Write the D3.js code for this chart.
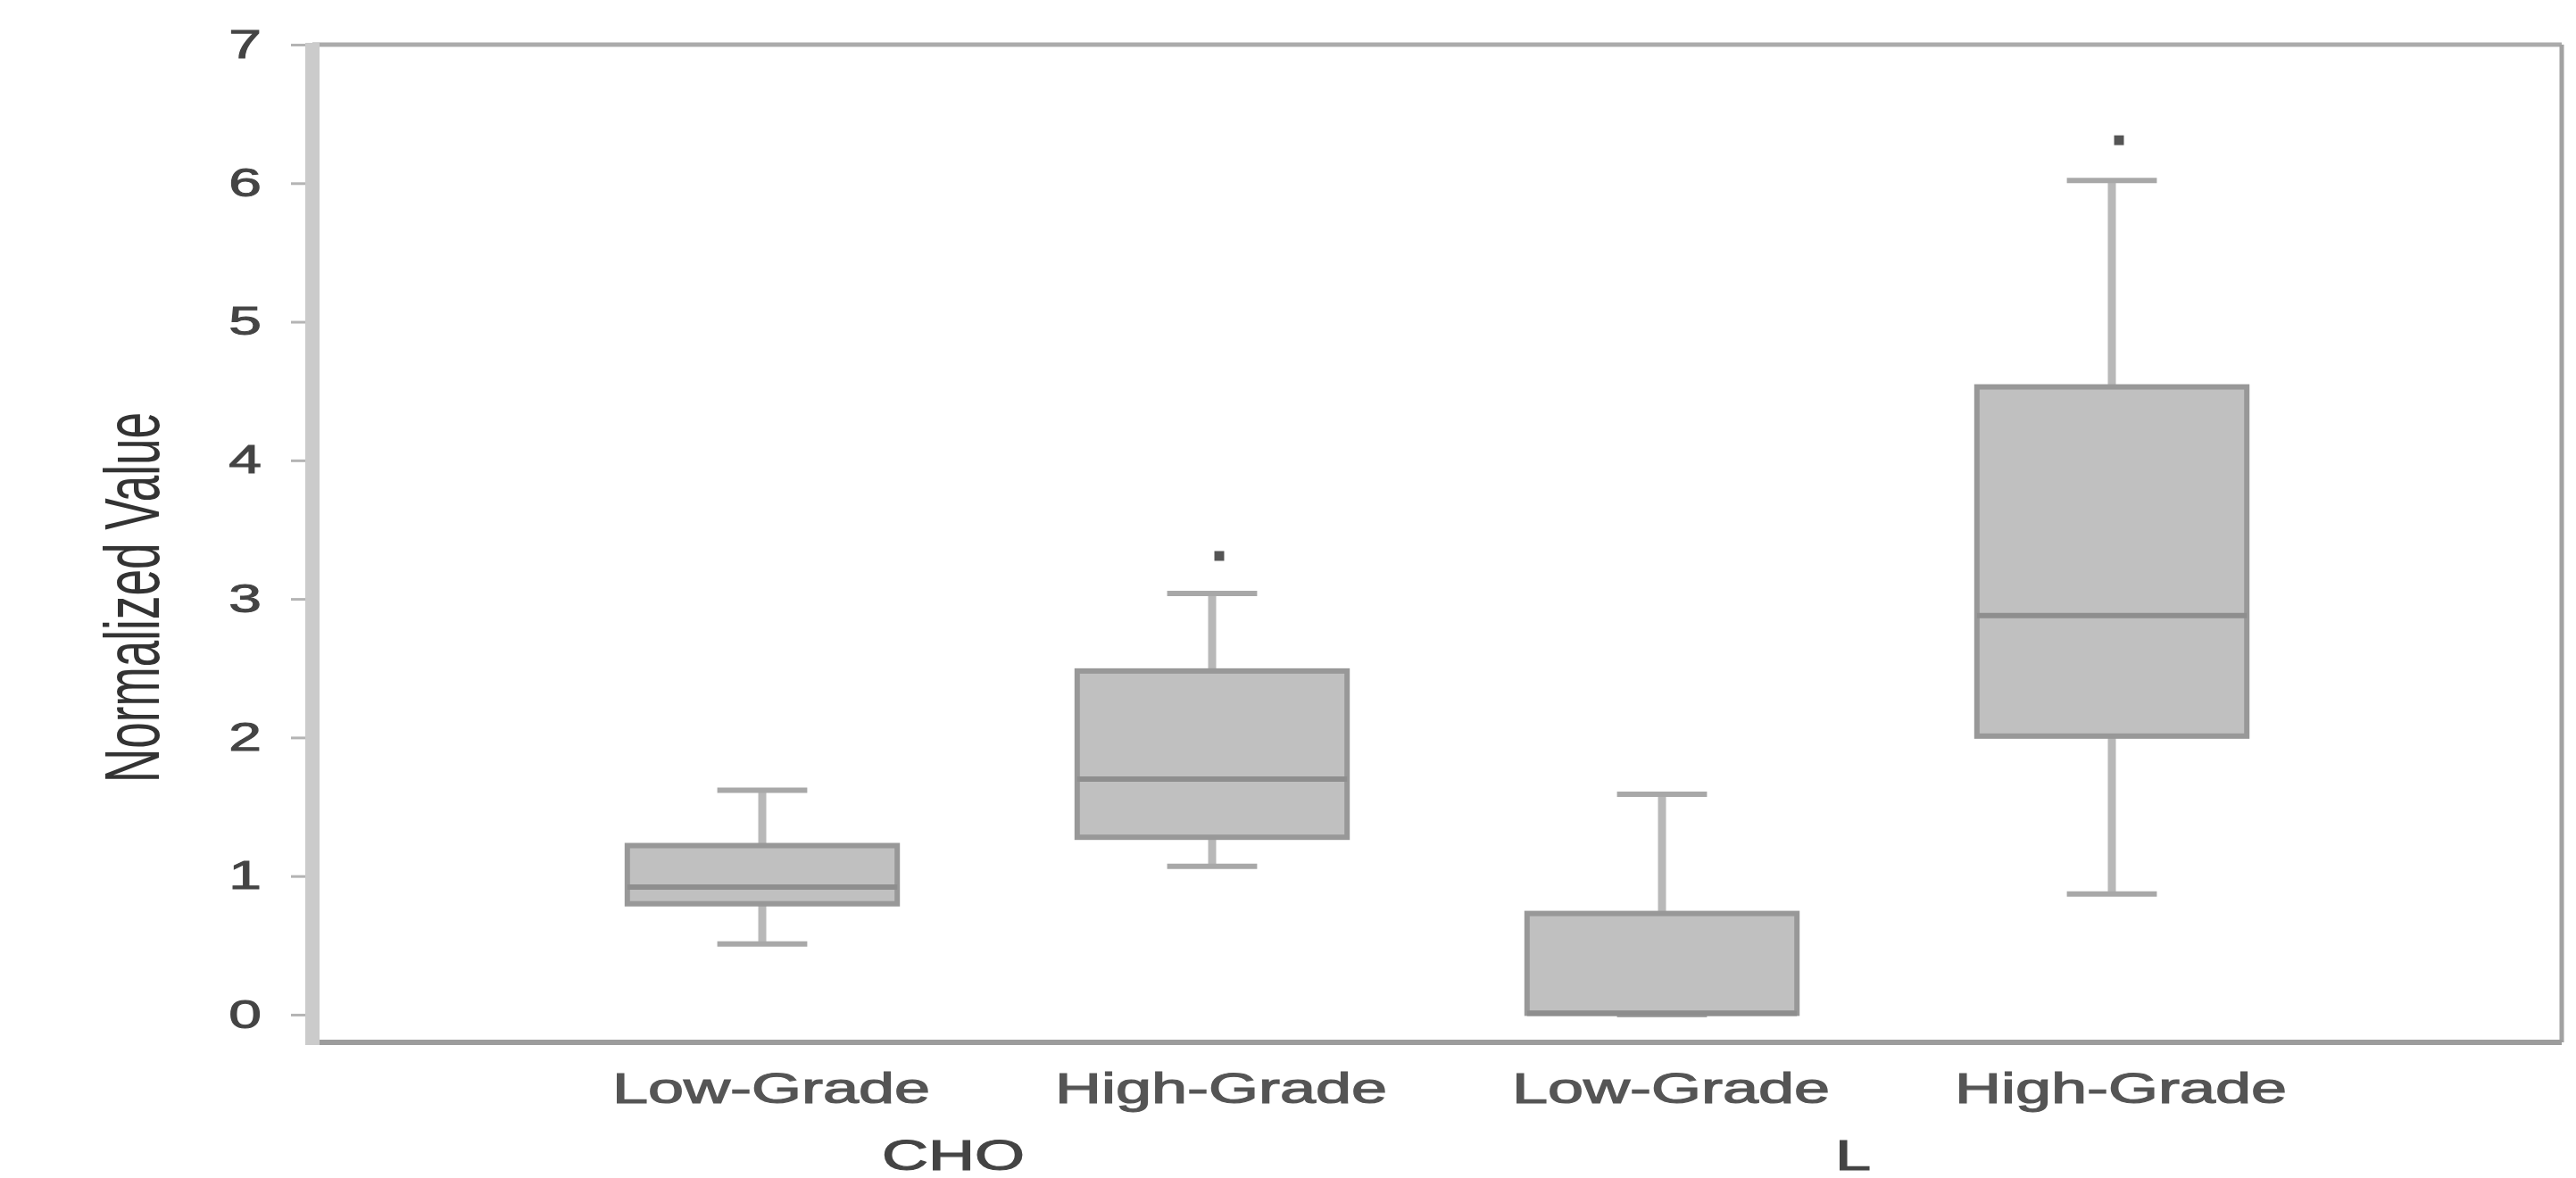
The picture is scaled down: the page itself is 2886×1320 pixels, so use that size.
<!DOCTYPE html>
<html>
<head>
<meta charset="utf-8">
<script src="https://cdn.jsdelivr.net/npm/d3@7"></script>
<style>
  body { margin: 0; background: #fff; }
  svg { display: block; }
  text { font-family: "Liberation Sans", Arial, sans-serif; }
</style>
</head>
<body>
<svg id="chart" width="2886" height="1320"></svg>
<script>
// categories, in plot order
const groups = ["CHO", "CHO", "L", "L"];
const grades = ["Low-Grade", "High-Grade", "Low-Grade", "High-Grade"];

// five-number summaries
const whiskerLow  = [0.51, 1.07, 0.00, 0.87];
const q1          = [0.80, 1.28, 0.01, 2.01];
const median      = [0.92, 1.70, 0.01, 2.88];
const q3          = [1.22, 2.48, 0.73, 4.53];
const whiskerHigh = [1.62, 3.04, 1.59, 6.02];
// extreme marks (asterisks), null where there is none
const extremes    = [null, 3.31, null, 6.31];

const yTicks = [0, 1, 2, 3, 4, 5, 6, 7];

const svg = d3.select("#chart");
const plotLeft = 350, plotRight = 2870, plotTop = 50, plotBottom = 1168;
const sx = 1.5; // the original picture is stretched sideways

const keys = grades.map((g, i) => groups[i] + " " + g);

const x = d3.scalePoint()
    .domain(keys)
    .range([plotLeft, plotRight])
    .padding(1);

const y = d3.scaleLinear()
    .domain([-0.2, 7])
    .range([plotBottom, plotTop]);

const step = x.step();
const boxW = step * 0.6;
const capW = step * 0.2;

// y axis ticks + labels
const yAxis = svg.append("g")
    .attr("transform", `translate(${plotLeft},0)`)
    .call(d3.axisLeft(y).tickValues(yTicks).tickSize(24).tickPadding(33).tickFormat(d3.format("d")));
yAxis.select(".domain").remove();
yAxis.selectAll(".tick line").attr("stroke", "#b4b4b4").attr("stroke-width", 3);
yAxis.selectAll(".tick text")
    .attr("x", -57 / sx)
    .attr("transform", `scale(${sx},1)`)
    .attr("fill", "#444")
    .attr("stroke", "#444")
    .attr("stroke-width", 1)
    .style("font-size", "44px");

// frame
svg.append("line")
    .attr("x1", plotLeft).attr("x2", plotRight).attr("y1", plotTop).attr("y2", plotTop)
    .attr("stroke", "#ababab").attr("stroke-width", 5);
svg.append("line")
    .attr("x1", plotRight).attr("x2", plotRight).attr("y1", plotTop).attr("y2", plotBottom)
    .attr("stroke", "#a2a2a2").attr("stroke-width", 5);
svg.append("line")
    .attr("x1", plotLeft).attr("x2", plotRight).attr("y1", plotBottom).attr("y2", plotBottom)
    .attr("stroke", "#9c9c9c").attr("stroke-width", 6);
svg.append("line")
    .attr("x1", plotLeft).attr("x2", plotLeft).attr("y1", plotTop - 2).attr("y2", plotBottom + 3)
    .attr("stroke", "#cbcbcb").attr("stroke-width", 16);

// boxes
const data = keys.map((k, i) => ({
    key: k, lo: whiskerLow[i], q1: q1[i], med: median[i], q3: q3[i], hi: whiskerHigh[i], ext: extremes[i]
}));

const box = svg.append("g").selectAll("g").data(data).join("g");

box.append("line")
    .attr("x1", d => x(d.key)).attr("x2", d => x(d.key))
    .attr("y1", d => y(d.hi)).attr("y2", d => y(d.q3))
    .attr("stroke", "#b8b8b8").attr("stroke-width", 9);
box.append("line")
    .attr("x1", d => x(d.key)).attr("x2", d => x(d.key))
    .attr("y1", d => y(d.q1)).attr("y2", d => y(d.lo))
    .attr("stroke", "#b8b8b8").attr("stroke-width", 9);

box.append("line")
    .attr("x1", d => x(d.key) - capW / 2).attr("x2", d => x(d.key) + capW / 2)
    .attr("y1", d => y(d.hi)).attr("y2", d => y(d.hi))
    .attr("stroke", "#a8a8a8").attr("stroke-width", 6);
box.append("line")
    .attr("x1", d => x(d.key) - capW / 2).attr("x2", d => x(d.key) + capW / 2)
    .attr("y1", d => y(d.lo)).attr("y2", d => y(d.lo))
    .attr("stroke", "#a8a8a8").attr("stroke-width", 6);

box.append("rect")
    .attr("x", d => x(d.key) - boxW / 2)
    .attr("width", boxW)
    .attr("y", d => y(d.q3))
    .attr("height", d => y(d.q1) - y(d.q3))
    .attr("fill", "#c0c0c0")
    .attr("stroke", "#989898")
    .attr("stroke-width", 6);

box.append("line")
    .attr("x1", d => x(d.key) - boxW / 2).attr("x2", d => x(d.key) + boxW / 2)
    .attr("y1", d => y(d.med)).attr("y2", d => y(d.med))
    .attr("stroke", "#8e8e8e").attr("stroke-width", 6);

box.filter(d => d.ext !== null).append("path")
    .attr("transform", d => `translate(${x(d.key) + 8},${y(d.ext)})`)
    .attr("d", d3.symbol(d3.symbolSquare, 120))
    .attr("fill", "#555");

// category labels
svg.append("g").selectAll("text").data(data).join("text")
    .attr("transform", d => `translate(${x(d.key) + 10},1236) scale(${sx},1)`)
    .attr("text-anchor", "middle")
    .attr("fill", "#555")
    .attr("stroke", "#555")
    .attr("stroke-width", 1.2)
    .style("font-size", "48px")
    .text((d, i) => grades[i]);

// group labels
const groupNames = Array.from(new Set(groups));
const groupX = groupNames.map(g => d3.mean(keys.filter((k, i) => groups[i] === g), k => x(k)) - 38);
svg.append("g").selectAll("text").data(groupNames).join("text")
    .attr("transform", (g, i) => `translate(${groupX[i]},1311) scale(${sx},1)`)
    .attr("text-anchor", "middle")
    .attr("fill", "#444")
    .attr("stroke", "#444")
    .attr("stroke-width", 1.2)
    .style("font-size", "48px")
    .text(g => g);

// y axis title
svg.append("text")
    .attr("transform", `translate(178,${(462 + 877) / 2}) scale(${sx},1) rotate(-90)`)
    .attr("text-anchor", "middle")
    .attr("fill", "#333")
    .style("font-size", "58px")
    .attr("textLength", 415)
    .attr("lengthAdjust", "spacingAndGlyphs")
    .text("Normalized Value");
</script>
</body>
</html>
